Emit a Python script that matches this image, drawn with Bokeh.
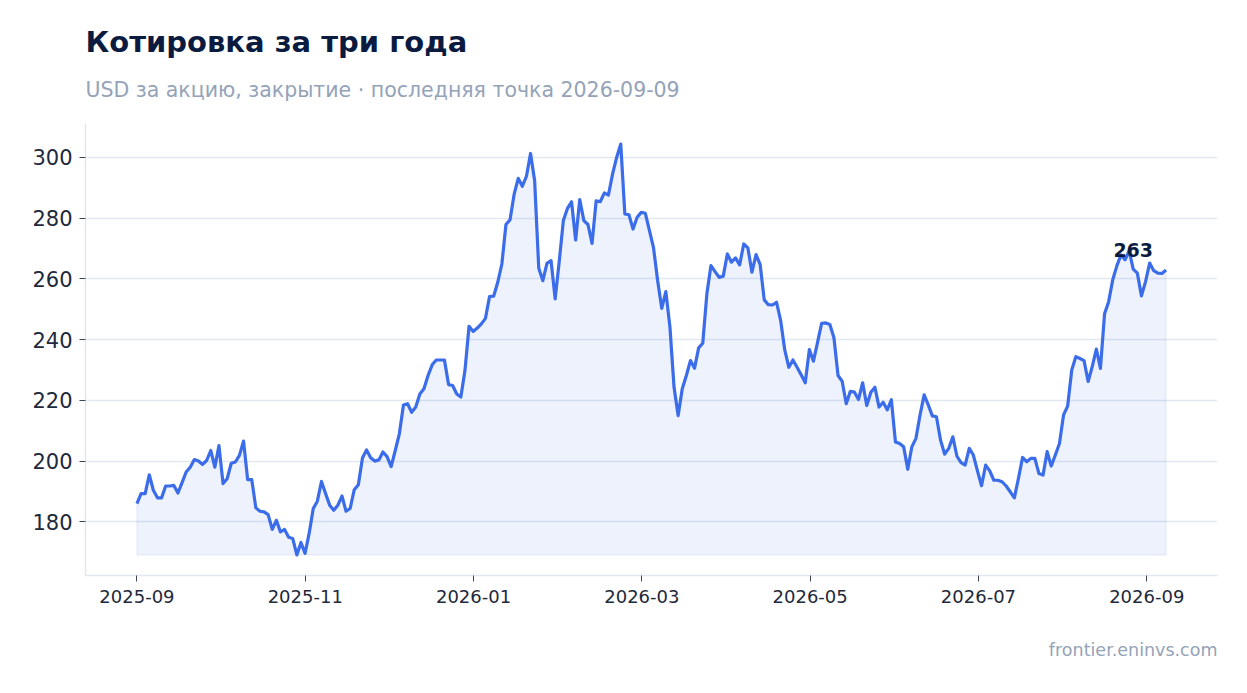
import numpy as np
import pandas as pd
from bokeh.plotting import figure
from bokeh.models import ColumnDataSource, Range1d, Title, FixedTicker, DatetimeTickFormatter
from bokeh.core.properties import value
from bokeh.embed import file_html
from bokeh.resources import INLINE

# daily closes, evenly spaced from the first to the last date
start_date = "2025-09-01"
end_date = "2026-09-09"
close = [
    186.0, 189.3, 189.3, 195.5, 190.4, 187.9, 187.9, 191.8, 191.8, 192.0,
    189.5, 192.9, 196.4, 198.0, 200.5, 200.0, 198.9, 200.2, 203.5, 198.0,
    205.1, 192.6, 194.2, 199.3, 199.7, 201.9, 206.6, 193.9, 193.9, 184.6,
    183.5, 183.3, 182.4, 177.5, 180.5, 176.7, 177.5, 174.9, 174.5, 169.1,
    173.2, 169.6, 176.2, 184.4, 186.8, 193.3, 189.3, 185.5, 183.8, 185.5,
    188.5, 183.5, 184.4, 190.6, 192.2, 201.0, 203.7, 201.1, 200.0, 200.4,
    203.0, 201.5, 198.2, 203.5, 209.0, 218.5, 218.9, 216.1, 217.8, 222.1,
    223.8, 228.2, 231.7, 233.3, 233.3, 233.3, 225.2, 224.9, 222.1, 221.1,
    229.8, 244.4, 242.7, 243.8, 245.2, 247.0, 254.2, 254.3, 258.9, 264.9,
    277.9, 279.5, 287.9, 293.1, 290.5, 293.8, 301.3, 292.3, 263.5, 259.4,
    265.1, 266.0, 253.4, 265.8, 279.2, 283.2, 285.4, 272.8, 286.1, 279.2,
    277.9, 271.7, 285.7, 285.4, 288.3, 287.6, 294.5, 300.0, 304.4, 281.4,
    281.1, 276.4, 280.3, 281.9, 281.6, 275.9, 270.2, 259.4, 250.3, 255.8,
    244.1, 224.3, 215.0, 223.8, 228.2, 233.1, 230.6, 237.3, 238.8, 255.0,
    264.4, 262.4, 260.5, 260.9, 268.2, 265.5, 266.9, 264.6, 271.5, 270.2,
    262.2, 268.0, 264.7, 253.1, 251.5, 251.4, 252.3, 246.3, 236.6, 230.9,
    233.3, 230.9, 228.4, 225.8, 236.7, 232.9, 239.1, 245.4, 245.5, 245.0,
    240.6, 228.2, 226.3, 218.9, 223.0, 222.7, 220.3, 225.8, 218.3, 222.7,
    224.3, 217.8, 219.4, 216.9, 220.2, 206.3, 205.8, 204.7, 197.3, 204.7,
    207.5, 215.2, 221.8, 218.5, 214.9, 214.6, 206.9, 202.3, 204.2, 208.0,
    201.6, 199.5, 198.7, 204.2, 202.0, 196.8, 191.9, 198.7, 196.8, 193.7,
    193.7, 193.2, 191.8, 189.9, 187.9, 194.3, 201.2, 199.8, 200.9, 200.9,
    195.9, 195.4, 203.1, 198.4, 202.0, 205.8, 215.2, 218.1, 230.0, 234.4,
    233.8, 233.1, 226.2, 231.1, 236.9, 230.5, 248.5, 252.5, 259.7, 264.3,
    267.9, 266.3, 269.2, 263.2, 261.9, 254.4, 259.1, 265.2, 262.7, 261.9,
    261.8, 262.9,
]
tick_dates = ["2025-09-01", "2025-11-01", "2026-01-01", "2026-03-03",
              "2026-05-03", "2026-07-03", "2026-09-02"]
y_ticks = [180, 200, 220, 240, 260, 280, 300]

title_text = "Котировка за три года"
subtitle_text = "USD за акцию, закрытие · последняя точка 2026-09-09"
source_text = "frontier.eninvs.com"

FONT = "DejaVu Sans"
BLUE = "#3b6ce9"
NAVY = "#0b1b3f"
GREY = "#94a3b8"

dates = pd.date_range(start_date, end_date, periods=len(close))
x = (dates.astype("int64") // 10**6).to_numpy().astype(float)
base = min(close)

source = ColumnDataSource(data={"x": x, "close": close})

x_span = x[-1] - x[0]
y_span = max(close) - min(close)

p = figure(width=1240, height=692, x_axis_type="datetime", title=None,
           output_backend="svg", toolbar_location=None, tools="",
           x_range=Range1d(x[0] - 0.05 * x_span, x[-1] + 0.05 * x_span),
           y_range=Range1d(min(close) - 0.05 * y_span, max(close) + 0.05 * y_span),
           min_border_left=85, min_border_right=23,
           min_border_top=123, min_border_bottom=117)
p.outline_line_color = None
p.background_fill_color = "white"
p.border_fill_color = "white"

# area under the line, down to the lowest close
p.patch(np.concatenate([x, x[::-1]]),
        np.concatenate([np.array(close), np.full(len(close), base)]),
        fill_color=BLUE, fill_alpha=0.09,
        line_color=BLUE, line_alpha=0.08, line_width=1.5)
p.line("x", "close", source=source, line_color=BLUE, line_width=3.2, line_join="round")

# last value label
p.text(x=[x[-1]], y=[close[-1]], text=[f"{close[-1]:.0f}"],
       text_align="right", text_baseline="alphabetic",
       x_offset=-13, y_offset=-20,
       text_font=value(FONT), text_font_style="bold",
       text_font_size="19px", text_color=NAVY)

# axes
p.xaxis.ticker = FixedTicker(ticks=[pd.Timestamp(d).value / 1e6 for d in tick_dates])
p.xaxis.formatter = DatetimeTickFormatter(days="%Y-%m", months="%Y-%m", years="%Y-%m")
p.yaxis.ticker = FixedTicker(ticks=y_ticks)

p.axis.axis_line_color = "#e2e8f0"
p.axis.axis_line_width = 1.5
p.axis.major_tick_line_color = "#3f4654"
p.axis.major_tick_out = 6
p.axis.major_tick_in = 0
p.axis.minor_tick_line_color = None
p.axis.major_label_text_font = FONT
p.axis.major_label_text_color = "#1e293b"
p.xaxis.major_label_text_font_size = "18px"
p.yaxis.major_label_text_font_size = "21px"
p.xaxis.major_label_standoff = 8
p.yaxis.major_label_standoff = 7

p.xgrid.grid_line_color = None
p.ygrid.grid_line_color = "#e2e8f0"
p.ygrid.grid_line_width = 1.5

# titles and source note
p.add_layout(Title(text=subtitle_text, text_font=FONT, text_font_style="normal",
                   text_font_size="20.5px", text_color=GREY, standoff=44,
                   text_line_height=0.75), "above")
p.add_layout(Title(text=title_text, text_font=FONT, text_font_style="bold",
                   text_font_size="29px", text_color=NAVY, standoff=-11), "above")
p.add_layout(Title(text=source_text, text_font=FONT, text_font_style="normal",
                   text_font_size="17.5px", text_color=GREY, align="right",
                   standoff=65, text_line_height=0.7), "below")

open("out.html", "w").write(file_html(p, INLINE))
